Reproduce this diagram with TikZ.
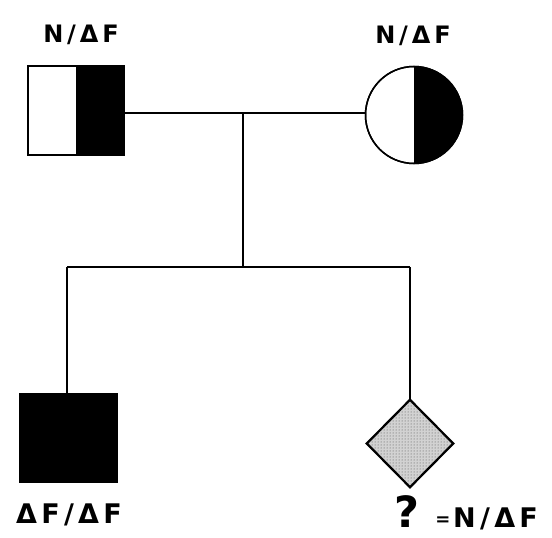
\documentclass[tikz,border=0pt]{standalone}
\usepackage{fontspec}
\setmainfont{DejaVu Sans}
\newfontfamily\lblfont[LetterSpace=16]{DejaVu Sans}
\usetikzlibrary{shapes.geometric,patterns}
\begin{document}
\begin{tikzpicture}[x=1pt,y=-1pt,
  lbl/.style={font=\lblfont\fontsize{24}{26}\selectfont\bfseries, inner sep=0pt, anchor=base},
  biglbl/.style={font=\lblfont\fontsize{27}{30}\selectfont\bfseries, inner sep=0pt, anchor=base},
  ln/.style={line width=1.2pt},
  sym/.style={draw, line width=1.5pt}]
\useasboundingbox (0,0) rectangle (552,538);
% father
\fill[white] (28,66) rectangle (76,155);
\fill[black] (76,66) rectangle (124,155);
\node[sym, minimum width=96pt, minimum height=89pt, inner sep=0pt, anchor=center] (father) at (76,110.5) {};
% mother
\node[sym, circle, minimum size=97pt, inner sep=0pt] (mother) at (414,115) {};
\fill[black] (414,66.5) arc[start angle=90,end angle=-90,radius=48.5pt] -- cycle;
\draw[line width=1pt] (414,66.5) -- (414,163.5);
\draw[line width=1.5pt] (mother) circle[radius=48.5pt];
% child 1
\node[sym, fill=black, minimum width=97pt, minimum height=89pt, inner sep=0pt] (son) at (68.5,438) {};
% child 2
\node[sym, diamond, aspect=1, minimum width=86pt, minimum height=87pt, inner sep=0pt, fill=gray!35] (unk) at (410,443.5) {};
\fill[pattern=dots, pattern color=black!70] (unk.north) -- (unk.east) -- (unk.south) -- (unk.west) -- cycle;
\draw[line width=1.5pt] (unk.north) -- (unk.east) -- (unk.south) -- (unk.west) -- cycle;
% lines
\coordinate (m) at (243,113);
\coordinate (s) at (243,267);
\coordinate (sl) at (67,267);
\coordinate (sr) at (410,267);
\draw[ln] (father.east |- m) -- (mother.west |- m);
\draw[ln] (m) -- (s);
\draw[ln] (sl) -- (sr);
\draw[ln] (sl) -- (sl |- son.north);
\draw[ln] (sr) -- (unk.north);
% labels
\node[lbl] (lf) at (81,42) {N/ΔF};
\node[lbl] (lm) at (413,43) {N/ΔF};
\node[biglbl] (ls) at (69,523) {ΔF/ΔF};
\node[inner sep=0pt, anchor=base, text depth=0pt, font=\fontsize{43}{46}\selectfont\bfseries] (q) at (407,527) {?};
\node[inner sep=0pt, anchor=base, font=\fontsize{18}{20}\selectfont\bfseries] (eq) at (443,525) {=};
\node[biglbl, anchor=base west] (lq) at (453,527) {N/ΔF};
\end{tikzpicture}
\end{document}
